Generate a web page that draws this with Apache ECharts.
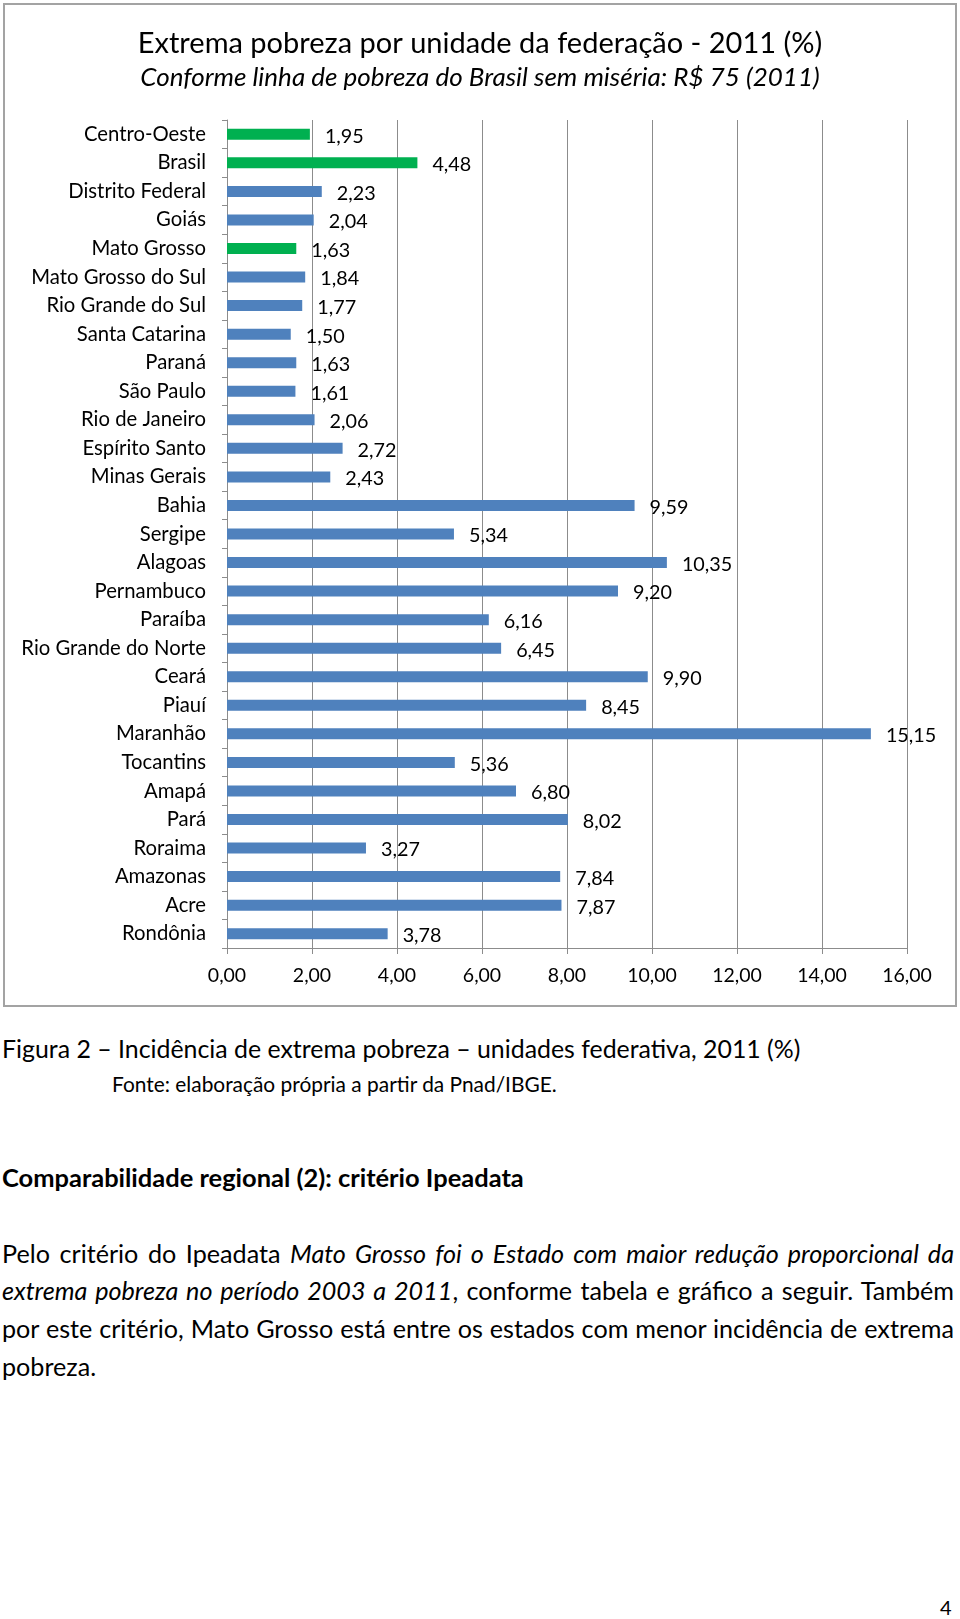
<!DOCTYPE html>
<html>
<head>
<meta charset="utf-8">
<script src="https://cdn.jsdelivr.net/npm/echarts@6/dist/echarts.min.js"></script>
<style>
  html, body { margin: 0; padding: 0; background: #fff; }
  body { width: 960px; height: 1619px; position: relative; font-family: Lato, "Noto Sans", sans-serif; color: #000; }
  #chart { position: absolute; left: 0; top: 0; width: 960px; height: 1010px; }
  .t { position: absolute; white-space: nowrap; line-height: 1; }
  .line { position: absolute; left: 2px; width: 952px; text-align: justify; text-align-last: justify; white-space: nowrap; line-height: 1; font-size: 21px; }
  .last { text-align-last: left; }
</style>
</head>
<body>
<div id="chart"></div>
<div class="t" id="cap" style="left:2px; top:1036px; font-size:21px;">Figura 2 – Incidência de extrema pobreza – unidades federativa, 2011 (%)</div>
<div class="t" id="src" style="left:112px; top:1074px; font-size:17px;">Fonte: elaboração própria a partir da Pnad/IBGE.</div>
<div class="t" id="head" style="left:2px; top:1165px; font-size:21px; font-weight:bold;">Comparabilidade regional (2): critério Ipeadata</div>
<div class="line" style="top:1241px;">Pelo critério do Ipeadata <i>Mato Grosso foi o Estado com maior redução proporcional da</i></div>
<div class="line" style="top:1278px;"><i>extrema pobreza no período 2003 a 2011</i>, conforme tabela e gráfico a seguir. Também</div>
<div class="line" style="top:1316px;">por este critério, Mato Grosso está entre os estados com menor incidência de extrema</div>
<div class="line last" style="top:1354px;">pobreza.</div>
<div class="t" style="left:940px; top:1597px; font-size:20px;">4</div>
<script>
const categories = ['Centro-Oeste','Brasil','Distrito Federal','Goiás','Mato Grosso','Mato Grosso do Sul','Rio Grande do Sul','Santa Catarina','Paraná','São Paulo','Rio de Janeiro','Espírito Santo','Minas Gerais','Bahia','Sergipe','Alagoas','Pernambuco','Paraíba','Rio Grande do Norte','Ceará','Piauí','Maranhão','Tocantins','Amapá','Pará','Roraima','Amazonas','Acre','Rondônia'];
const values = [1.95,4.48,2.23,2.04,1.63,1.84,1.77,1.50,1.63,1.61,2.06,2.72,2.43,9.59,5.34,10.35,9.20,6.16,6.45,9.90,8.45,15.15,5.36,6.80,8.02,3.27,7.84,7.87,3.78];
const highlighted = ['Centro-Oeste','Brasil','Mato Grosso'];
const xTicks = [0,2,4,6,8,10,12,14,16];
const titleText = 'Extrema pobreza por unidade da federação - 2011 (%)';
const subtitleText = 'Conforme linha de pobreza do Brasil sem miséria: R$ 75 (2011)';

// fit HTML text widths (Calibri substitute)
function fitWidth(id, target) {
  const el = document.getElementById(id);
  const w = el.getBoundingClientRect().width;
  const fs = parseFloat(getComputedStyle(el).fontSize);
  el.style.fontSize = (fs * target / w) + 'px';
}
fitWidth('cap', 799);
fitWidth('src', 445);
fitWidth('head', 522);

// body paragraph: common font size so the justified lines need little stretching
(function () {
  const lines = Array.from(document.querySelectorAll('.line'));
  let best = Infinity;
  lines.filter(l => !l.classList.contains('last')).forEach(l => {
    l.style.textAlign = 'left'; l.style.textAlignLast = 'left';
    const r = document.createRange(); r.selectNodeContents(l);
    const w = r.getBoundingClientRect().width;
    const fs = parseFloat(getComputedStyle(l).fontSize);
    best = Math.min(best, fs * 946 / w);
    l.style.textAlign = ''; l.style.textAlignLast = '';
  });
  lines.forEach(l => { l.style.fontSize = best + 'px'; });
})();

const fmt = v => v.toFixed(2).replace('.', ',');
const chart = echarts.init(document.getElementById('chart'), null, { renderer: 'canvas' });
const FONT = 'Lato';
chart.setOption({
  animation: false,
  backgroundColor: '#fff',
  graphic: [{
    type: 'rect', z: -1, silent: true,
    shape: { x: 4, y: 4, width: 952, height: 1002 },
    style: { fill: 'none', stroke: '#a3a3a3', lineWidth: 2 }
  }],
  title: [
    { text: titleText, left: 'center', top: 24, textStyle: { fontFamily: FONT, fontSize: 29, fontWeight: 'normal', color: '#000' } },
    { text: subtitleText, left: 'center', top: 60, textStyle: { fontFamily: FONT, fontSize: 26, fontStyle: 'italic', fontWeight: 'normal', color: '#000' } }
  ],
  grid: { left: 227, top: 120, width: 680, height: 828, containLabel: false },
  xAxis: {
    type: 'value', min: xTicks[0], max: xTicks[xTicks.length - 1], interval: 2,
    axisLine: { show: true, lineStyle: { color: '#8c8c8c', width: 1 } },
    axisTick: { show: true, length: 6, lineStyle: { color: '#8c8c8c' } },
    splitLine: { show: true, lineStyle: { color: '#8c8c8c', width: 1 } },
    axisLabel: { margin: 18, fontFamily: FONT, fontSize: 19.5, color: '#000', formatter: v => fmt(v) }
  },
  yAxis: {
    type: 'category', data: categories, inverse: true,
    axisLine: { show: true, lineStyle: { color: '#8c8c8c', width: 1 } },
    axisTick: { show: true, length: 5, lineStyle: { color: '#8c8c8c' } },
    axisLabel: { margin: 21, fontFamily: FONT, fontSize: 20.3, color: '#000' }
  },
  series: [{
    type: 'bar', data: values, barWidth: 11,
    itemStyle: { color: p => highlighted.includes(categories[p.dataIndex]) ? '#00B050' : '#4F81BD' },
    label: { show: true, position: 'right', distance: 15, offset: [0, 2], fontFamily: FONT, fontSize: 19.8, color: '#000', formatter: p => fmt(p.value) }
  }]
});
</script>
</body>
</html>
